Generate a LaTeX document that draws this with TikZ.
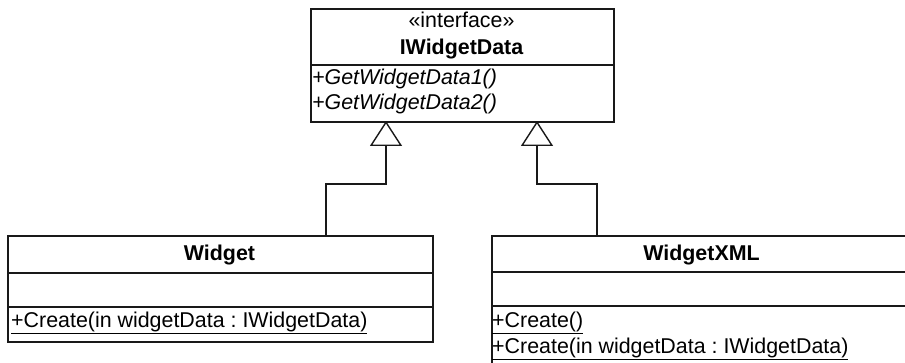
\documentclass[tikz,border=0pt]{standalone}
\usepackage{fontspec}
\setmainfont{Liberation Sans}
\usetikzlibrary{arrows.meta}
\tikzset{
  boxline/.style={line width=2pt, draw=black!90},
  txt/.style={inner sep=0pt, anchor=base, font=\fontsize{21.4}{25}\selectfont},
  ltxt/.style={inner sep=0pt, anchor=base west, font=\fontsize{21.4}{25}\selectfont},
  gen/.style={line width=1.1pt, draw=black!90, -{Triangle[open, length=25pt, width=32pt, line width=1.4pt]}},
}
\begin{document}
\frenchspacing
\begin{tikzpicture}[x=1pt, y=-1pt]
\useasboundingbox (0,0) rectangle (905,363);
\clip (0,0) rectangle (905,363);
% interface box
\node[boxline, draw, inner sep=0pt, anchor=north west, minimum width=303pt, minimum height=113pt] (iface) at (310,8) {};
\draw[boxline] (310,65) -- (613,65);
\node[txt] (istereo) at (461.5,28) {«interface»};
\node[txt, font=\fontsize{21.4}{25}\selectfont\bfseries] (iname) at (461.5,55) {IWidgetData};
\node[ltxt, font=\fontsize{21.4}{25}\selectfont\itshape] (im1) at (312,85) {+GetWidgetData1()};
\node[ltxt, font=\fontsize{21.4}{25}\selectfont\itshape] (im2) at (312,110) {+GetWidgetData2()};
% Widget box
\node[boxline, draw, inner sep=0pt, anchor=north west, minimum width=425pt, minimum height=106pt] (widget) at (7,235) {};
\draw[boxline] (7,273) -- (432,273);
\draw[boxline] (7,307) -- (432,307);
\node[txt, font=\fontsize{21.4}{25}\selectfont\bfseries] (wname) at (219.5,260.5) {Widget};
\node[ltxt] (wm1) at (11,327.5) {\underline{+Create(in widgetData : IWidgetData)}};
% WidgetXML box
\node[boxline, draw, inner sep=0pt, anchor=north west, minimum width=421pt, minimum height=140pt] (wxml) at (491,235) {};
\draw[boxline] (491,272) -- (912,272);
\draw[boxline] (491,306) -- (912,306);
\node[txt, font=\fontsize{21.4}{25}\selectfont\bfseries] (xname) at (701.5,260.5) {WidgetXML};
\node[ltxt] (xm1) at (492,327) {\underline{+Create()}};
\node[ltxt] (xm2) at (492,353) {\underline{+Create(in widgetData : IWidgetData)}};
% connectors
\coordinate (lt) at (386,121);
\coordinate (lb) at (386,184);
\coordinate (lw) at (326,184);
\coordinate (rt) at (537,121);
\coordinate (rb) at (537,184);
\coordinate (rw) at (597,184);
\draw[gen] (widget.north -| lw) -- (lw) -- (lb) -- (lt);
\draw[gen] (wxml.north -| rw) -- (rw) -- (rb) -- (rt);
\end{tikzpicture}
\end{document}
